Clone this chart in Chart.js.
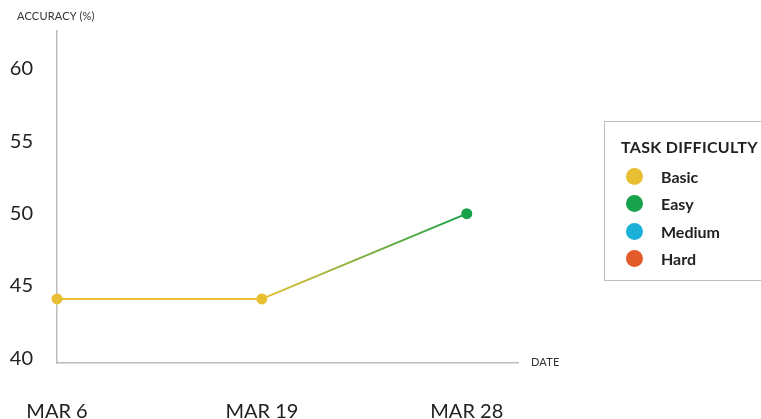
<!DOCTYPE html>
<html><head><meta charset="utf-8">
<script src="https://cdn.jsdelivr.net/npm/chart.js@4/dist/chart.umd.min.js"></script>
<style>
html,body{margin:0;padding:0;background:#fff;}
#wrap{position:relative;width:761px;height:419px;overflow:hidden;font-family:Lato,"Open Sans",sans-serif;}
canvas{position:absolute;left:0;top:0;}
.lbl{position:absolute;font-size:11px;color:#333;white-space:nowrap;letter-spacing:0.2px;}
#legend{position:absolute;left:604px;top:121px;width:175px;height:160px;border:1px solid #bdbdbd;box-sizing:border-box;}
#legend .t{position:absolute;left:16px;top:15px;font-weight:700;font-size:16px;color:#222;letter-spacing:0.3px;line-height:20px;}
#legend .it{position:absolute;left:21px;height:20px;line-height:20px;font-size:16px;font-weight:700;color:#222;}
#legend .dot{position:absolute;left:0;top:1px;width:17px;height:17px;border-radius:50%;}
#legend .tx{position:absolute;left:35px;top:0;}
</style></head>
<body>
<div id="wrap">
<canvas id="c" width="761" height="419"></canvas>
<div class="lbl" style="left:17px;top:9px;">ACCURACY (%)</div>
<div class="lbl" style="left:531px;top:355px;">DATE</div>
<div id="legend"></div>
</div>
<script>
const dates = ['MAR 6', 'MAR 19', 'MAR 28'];
const accuracy = [44.1, 44.1, 50];
const pointDifficulty = ['Basic', 'Basic', 'Easy'];
const difficulties = ['Basic', 'Easy', 'Medium', 'Hard'];
const difficultyColors = ['#E8BE33', '#17A24B', '#1AB0D8', '#E35A2B'];
const yTicks = [40, 45, 50, 55, 60];

const colorOf = d => difficultyColors[difficulties.indexOf(d)];

// HTML legend
const lg = document.getElementById('legend');
let html = '<div class="t">TASK DIFFICULTY</div>';
difficulties.forEach((d, i) => {
  const top = 45 + i * 27.3;
  html += '<div class="it" style="top:' + top + 'px"><span class="dot" style="background:' + difficultyColors[i] + '"></span><span class="tx">' + d + '</span></div>';
});
lg.innerHTML = html;

const pts = accuracy.map((v, i) => ({x: i, y: v}));
const ptColors = pointDifficulty.map(colorOf);

new Chart(document.getElementById('c'), {
  type: 'line',
  data: {
    datasets: [{
      data: pts,
      borderWidth: 2,
      pointRadius: 5.5,
      pointHoverRadius: 5.5,
      pointBorderWidth: 0,
      pointBackgroundColor: ptColors,
      pointBorderColor: ptColors,
      clip: false,
      segment: {
        borderColor: ctx => {
          const c = ctx.chart.ctx;
          const g = c.createLinearGradient(ctx.p0.x, ctx.p0.y, ctx.p1.x, ctx.p1.y);
          g.addColorStop(0, ptColors[ctx.p0DataIndex]);
          g.addColorStop(1, ptColors[ctx.p1DataIndex]);
          return g;
        }
      }
    }]
  },
  options: {
    responsive: false,
    animation: false,
    events: [],
    layout: {padding: {left: 0, top: 31, right: 243, bottom: 0}},
    plugins: {legend: {display: false}, tooltip: {enabled: false}},
    scales: {
      x: {
        type: 'linear',
        min: 0,
        max: 2.25,
        afterBuildTicks: s => { s.ticks = dates.map((d, i) => ({value: i})); },
        afterFit: s => { s.height = 56; s.paddingLeft = 0; s.paddingRight = 0; },
        grid: {display: true, drawOnChartArea: false, drawTicks: false},
        border: {display: true, color: '#bdbdbd', width: 1.5},
        ticks: {
          padding: 37,
          color: '#222',
          font: {family: 'Lato', size: 20},
          maxRotation: 0,
          callback: v => dates[v]
        }
      },
      y: {
        min: 39.67,
        max: 62.63,
        afterBuildTicks: s => { s.ticks = yTicks.map(v => ({value: v})); },
        afterFit: s => { s.width = 57; s.paddingTop = 0; s.paddingBottom = 0; },
        grid: {display: true, drawOnChartArea: false, drawTicks: false},
        border: {display: true, color: '#bdbdbd', width: 1.5},
        ticks: {
          padding: 24,
          color: '#222',
          font: {family: 'Lato', size: 20},
          callback: v => String(v)
        }
      }
    }
  }
});
</script>
</body></html>
